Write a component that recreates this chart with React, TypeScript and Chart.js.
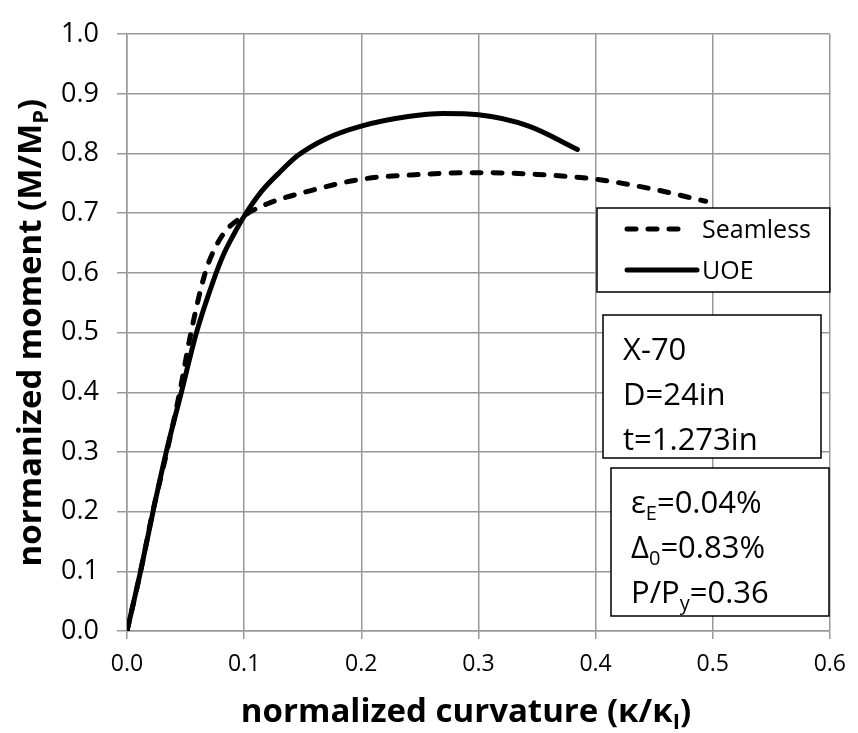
import React, { useEffect, useRef } from 'react';
import { Chart, registerables } from 'chart.js';

Chart.register(...registerables);

// ---- data ----
const seamlessX = [0, 0.0116, 0.022, 0.034, 0.045, 0.0546, 0.0667, 0.0735, 0.0841, 0.1, 0.12, 0.157, 0.2, 0.25, 0.3, 0.35, 0.4, 0.45, 0.494];
const seamlessY = [0, 0.1, 0.2, 0.3, 0.4, 0.5, 0.6, 0.635, 0.67, 0.696, 0.716, 0.738, 0.757, 0.765, 0.768, 0.765, 0.757, 0.74, 0.72];
const uoeX = [0, 0.0116, 0.0222, 0.0335, 0.0464, 0.0593, 0.0743, 0.0827, 0.091, 0.1, 0.115, 0.13, 0.146, 0.17, 0.2, 0.24, 0.27, 0.3, 0.343, 0.3845];
const uoeY = [0, 0.1, 0.2, 0.3, 0.4, 0.5, 0.59, 0.632, 0.664, 0.695, 0.737, 0.768, 0.797, 0.825, 0.846, 0.862, 0.867, 0.865, 0.846, 0.807];
const xTickValues = [0, 0.1, 0.2, 0.3, 0.4, 0.5, 0.6];
const yTickValues = [0, 0.1, 0.2, 0.3, 0.4, 0.5, 0.6, 0.7, 0.8, 0.9, 1.0];
const seriesNames = ['Seamless', 'UOE'];

type Seg = { t: string; sub?: boolean };
const xTitle: Seg[] = [{ t: 'normalized curvature (κ/κ' }, { t: 'I', sub: true }, { t: ')' }];
const yTitle: Seg[] = [{ t: 'normanized moment (M/M' }, { t: 'P', sub: true }, { t: ')' }];
const infoLines1: Seg[][] = [[{ t: 'X-70' }], [{ t: 'D=24in' }], [{ t: 't=1.273in' }]];
const infoLines2: Seg[][] = [
  [{ t: 'ε' }, { t: 'E', sub: true }, { t: '=0.04%' }],
  [{ t: 'Δ' }, { t: '0', sub: true }, { t: '=0.83%' }],
  [{ t: 'P/P' }, { t: 'y', sub: true }, { t: '=0.36' }],
];

const FONT = "'Open Sans', sans-serif";
const GRID = '#999999';

function drawRich(ctx: CanvasRenderingContext2D, segs: Seg[], x: number, y: number, size: number, weight: string, align: 'left' | 'center') {
  const main = `${weight} ${size}px ${FONT}`;
  const subF = `${weight} ${Math.round(size * 0.66)}px ${FONT}`;
  let total = 0;
  for (const s of segs) {
    ctx.font = s.sub ? subF : main;
    total += ctx.measureText(s.t).width;
  }
  let cx = align === 'center' ? x - total / 2 : x;
  ctx.textAlign = 'left';
  ctx.textBaseline = 'alphabetic';
  for (const s of segs) {
    ctx.font = s.sub ? subF : main;
    ctx.fillText(s.t, cx, s.sub ? y + size * 0.22 : y);
    cx += ctx.measureText(s.t).width;
  }
}

function box(ctx: CanvasRenderingContext2D, l: number, t: number, r: number, b: number) {
  ctx.fillStyle = '#ffffff';
  ctx.fillRect(l, t, r - l, b - t);
  ctx.strokeStyle = '#000000';
  ctx.lineWidth = 1.5;
  ctx.strokeRect(l, t, r - l, b - t);
}

const overlayPlugin = {
  id: 'overlay',
  afterDraw(chart: any) {
    const ctx: CanvasRenderingContext2D = chart.ctx;
    const ca = chart.chartArea;
    ctx.save();
    // legend
    box(ctx, 597, 208, ca.right, 292);
    const dsets = chart.data.datasets;
    const rows = [229, 270];
    const lineEnds = [687, 697];
    dsets.forEach((ds: any, i: number) => {
      ctx.beginPath();
      ctx.strokeStyle = '#000';
      ctx.lineWidth = ds.borderWidth;
      ctx.lineCap = 'round';
      ctx.setLineDash(ds.borderDash || []);
      ctx.moveTo(627, rows[i]);
      ctx.lineTo(lineEnds[i], rows[i]);
      ctx.stroke();
      ctx.setLineDash([]);
      ctx.fillStyle = '#000';
      drawRich(ctx, [{ t: seriesNames[i] }], 702, rows[i] + 9, 25, 'normal', 'left');
    });
    // info box 1
    box(ctx, 603, 315, 821, 458);
    ctx.fillStyle = '#000';
    infoLines1.forEach((ln, i) => drawRich(ctx, ln, 623, 360 + i * 45, 31, 'normal', 'left'));
    // info box 2
    box(ctx, 611, 468, 829, 616);
    ctx.fillStyle = '#000';
    infoLines2.forEach((ln, i) => drawRich(ctx, ln, 631, 513 + i * 45, 31, 'normal', 'left'));
    // axis titles
    ctx.fillStyle = '#000';
    drawRich(ctx, xTitle, 466, 722, 33, 'bold', 'center');
    ctx.translate(41, (ca.top + ca.bottom) / 2);
    ctx.rotate(-Math.PI / 2);
    drawRich(ctx, yTitle, 0, 0, 33, 'bold', 'center');
    ctx.restore();
  },
};

export default function App() {
  const ref = useRef<HTMLCanvasElement | null>(null);
  useEffect(() => {
    if (!ref.current) return;
    const chart = new Chart(ref.current, {
      type: 'line',
      data: {
        datasets: [
          {
            label: seriesNames[0],
            data: seamlessX.map((x, i) => ({ x, y: seamlessY[i] })),
            borderColor: '#000',
            borderWidth: 5,
            borderDash: [9, 12],
            borderCapStyle: 'round',
            pointRadius: 0,
            cubicInterpolationMode: 'monotone',
            fill: false,
          },
          {
            label: seriesNames[1],
            data: uoeX.map((x, i) => ({ x, y: uoeY[i] })),
            borderColor: '#000',
            borderWidth: 5,
            borderCapStyle: 'round',
            pointRadius: 0,
            cubicInterpolationMode: 'monotone',
            fill: false,
          },
        ],
      },
      options: {
        animation: false,
        responsive: false,
        maintainAspectRatio: false,
        layout: { padding: { left: 0, right: 20, top: 21, bottom: 0 } },
        plugins: { legend: { display: false }, tooltip: { enabled: false } },
        scales: {
          x: {
            type: 'linear',
            min: 0,
            max: 0.6,
            afterBuildTicks: (s: any) => { s.ticks = xTickValues.map((v) => ({ value: v })); },
            afterFit: (s: any) => { s.height = 102; },
            ticks: { color: '#000', font: { family: FONT, size: 23 }, padding: 12, maxRotation: 0, callback: (v: any) => Number(v).toFixed(1) },
            grid: { color: GRID, lineWidth: 1.5, tickLength: 8 },
            border: { color: GRID, width: 1.5 },
          },
          y: {
            type: 'linear',
            min: 0,
            max: 1,
            afterBuildTicks: (s: any) => { s.ticks = yTickValues.map((v) => ({ value: v })); },
            afterFit: (s: any) => { s.width = 127; },
            ticks: { color: '#000', font: { family: FONT, size: 27 }, padding: 18, callback: (v: any) => Number(v).toFixed(1) },
            grid: { color: GRID, lineWidth: 1.5, tickLength: 10 },
            border: { color: GRID, width: 1.5 },
          },
        },
      },
      plugins: [overlayPlugin],
    } as any);
    return () => chart.destroy();
  }, []);
  return (
    <div style={{ position: 'fixed', left: 0, top: 0, width: 858, height: 733, background: '#fff' }}>
      <canvas ref={ref} width={858} height={733} style={{ width: 858, height: 733 }} />
    </div>
  );
}
